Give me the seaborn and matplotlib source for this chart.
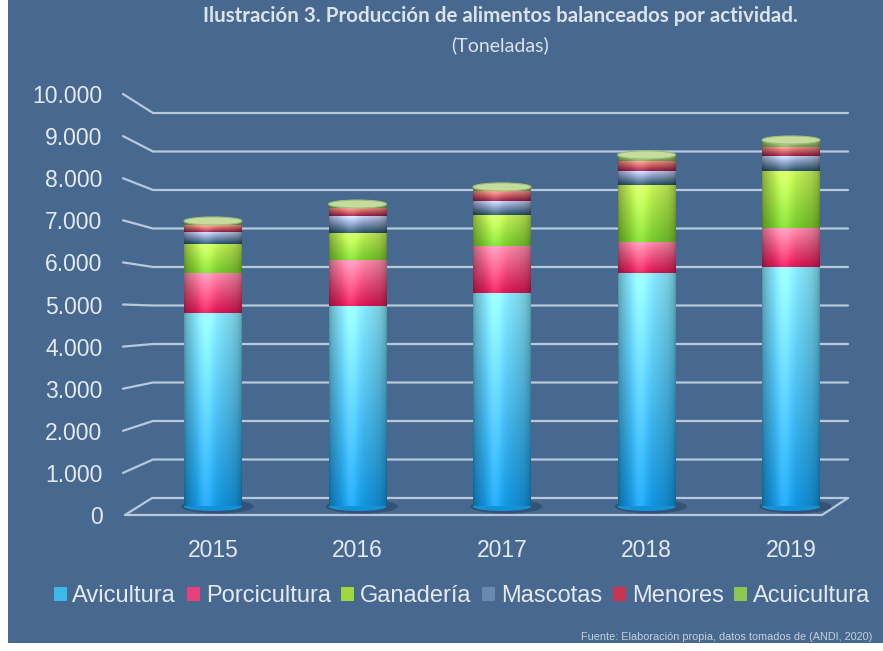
import numpy as np
import pandas as pd
import matplotlib
matplotlib.use("Agg")
import matplotlib.pyplot as plt
import matplotlib.transforms as mtransforms
from matplotlib.patches import Rectangle, Ellipse
import seaborn as sns

# ---------------- data (toneladas) ----------------
years = ["2015", "2016", "2017", "2018", "2019"]
series = ["Avicultura", "Porcicultura", "Ganadería", "Mascotas", "Menores", "Acuicultura"]
avicultura = [4790, 4975, 5290, 5790, 5950]
porcicultura = [1000, 1140, 1175, 785, 955]
ganaderia = [720, 670, 770, 1405, 1420]
mascotas = [310, 420, 355, 355, 380]
menores = [165, 200, 250, 250, 225]
acuicultura = [100, 100, 90, 140, 165]
ytick_values = [0, 1000, 2000, 3000, 4000, 5000, 6000, 7000, 8000, 9000, 10000]
ytick_labels = ["0", "1.000", "2.000", "3.000", "4.000", "5.000",
                "6.000", "7.000", "8.000", "9.000", "10.000"]
title = "Ilustración 3. Producción de alimentos balanceados por actividad."
subtitle = "(Toneladas)"
source = "Fuente: Elaboración propia, datos tomados de (ANDI, 2020)"

values = [avicultura, porcicultura, ganaderia, mascotas, menores, acuicultura]

# style: (top light colour, bottom dark colour, legend colour)
styles = [
    ("#86E4F8", "#1392DA", "#3DB8EA"),
    ("#F68AA8", "#D31450", "#E8407A"),
    ("#C2EC56", "#74C42A", "#9ED83E"),
    ("#C4CCF6", "#244C62", "#6A88B0"),
    ("#F29A86", "#8E1A3A", "#C83452"),
    ("#B2D682", "#6E9A4E", "#8CC850"),
]

BG = "#476990"
TXT = "#E4E9EF"
GRID = "#B9C9DC"

W, H = 883, 651
fig = plt.figure(figsize=(W / 100, H / 100), dpi=100, facecolor="white")
fig.patches.append(Rectangle((8 / W, 1 - 643 / H), 1 - 8 / W, 643 / H,
                             transform=fig.transFigure, facecolor=BG,
                             edgecolor="none", zorder=-10))
sns.set_style("white")
plt.rcParams["font.family"] = ["Liberation Sans", "DejaVu Sans"]

# axes: pixel box 140..848 horizontally, 94..515 vertically
ax = fig.add_axes([140 / W, 1 - 515 / H, (848 - 140) / W, (515 - 94) / H])
ax.set_facecolor("none")

# scale at the depth of the bars: 0 -> 506.5 px, 40.3 px per 1000
PX0, PXK = 506.5, 40.3
def px_to_val(py):
    return (PX0 - py) / PXK * 1000

# stacked bars via seaborn (cumulative, drawn from top layer down)
cums = np.cumsum(np.array(values, dtype=float), axis=0)
bar_w = 0.40
for k in range(len(series) - 1, -1, -1):
    df = pd.DataFrame({"Año": years, "valor": cums[k]})
    sns.barplot(data=df, x="Año", y="valor", color=styles[k][2], width=bar_w,
                ax=ax, zorder=2, edgecolor="none", saturation=1)

ax.set_xlim(-0.505, 4.394)
ax.set_ylim(px_to_val(515), px_to_val(94))

# ---------------- cylinder shading ----------------
def hex2rgb(h):
    return np.array(matplotlib.colors.to_rgb(h))

nx, ny = 80, 60
tx = np.linspace(-1, 1, nx)
profile = 0.66 + 0.34 * np.sqrt(np.clip(1 - tx ** 2, 0, 1)) \
    + 0.16 * np.exp(-((tx + 0.25) / 0.35) ** 2)
spec = 0.10 * np.exp(-((tx + 0.25) / 0.22) ** 2)
ty = np.linspace(0, 1, ny)[:, None]  # 0 bottom .. 1 top


def cyl_image(top_hex, bot_hex):
    top, bot = hex2rgb(top_hex), hex2rgb(bot_hex)
    base = bot[None, None, :] * (1 - ty[..., None]) + top[None, None, :] * ty[..., None]
    img = base * profile[None, :, None]
    img = img + spec[None, :, None] * (1 - img)
    return np.clip(img, 0, 1)


imgs = [cyl_image(s[0], s[1]) for s in styles]
for i in range(len(years)):
    # floor shadow and rounded bottom
    ax.add_patch(Ellipse((i + 0.03, 0), bar_w * 1.25, px_to_val(PX0 - 14),
                         facecolor="#23405E", alpha=0.55, edgecolor="none", zorder=1))
    ax.add_patch(Ellipse((i, 0), bar_w, px_to_val(PX0 - 9),
                         facecolor=styles[0][1], edgecolor="none", zorder=2.5))
    for k in range(len(series)):
        bottom = 0 if k == 0 else cums[k - 1][i]
        topv = cums[k][i]
        ax.imshow(imgs[k], extent=(i - bar_w / 2, i + bar_w / 2, bottom, topv),
                  origin="lower", aspect="auto", zorder=3, interpolation="bilinear")
    # top cap
    cap = Ellipse((i, cums[-1][i]), bar_w, px_to_val(PX0 - 8),
                  facecolor="#C6DC9C", edgecolor="#9DBF78", lw=0.8, zorder=4)
    ax.add_patch(cap)
ax.set_xlim(-0.505, 4.394)
ax.set_ylim(px_to_val(515), px_to_val(94))

# ---------------- 3D-like grid (back wall lines + diagonal connectors) ----------------
blend = mtransforms.blended_transform_factory(fig.transFigure, ax.transData)
front_pos = []
for v in ytick_values:
    yb = px_to_val(498 - 0.0385 * v)
    yf = px_to_val(515 - 0.0421 * v)
    front_pos.append(yf)
    if v == 0:
        ax.plot([125 / W, 152 / W, 848 / W], [yf, yb, yb], transform=blend,
                color=GRID, lw=1.6, clip_on=False, zorder=0.5)
        ax.plot([125 / W, 822 / W, 848 / W], [yf, yf, yb], transform=blend,
                color=GRID, lw=1.6, clip_on=False, zorder=0.5)
    else:
        ax.plot([123 / W, 153 / W, 848 / W], [yf, yb, yb], transform=blend,
                color=GRID, lw=1.6, clip_on=False, zorder=0.5)

ax.set_yticks(front_pos)
ax.set_yticklabels(ytick_labels)
ax.tick_params(axis="y", length=0, pad=27, labelsize=16.5, labelcolor=TXT)
ax.tick_params(axis="x", length=0, pad=17, labelsize=16.5, labelcolor=TXT)
ax.set_xlabel("")
ax.set_ylabel("")
for sp in ax.spines.values():
    sp.set_visible(False)
ax.grid(False)

# ---------------- legend ----------------
handles = [Rectangle((0, 0), 1, 1, facecolor=s[2], edgecolor="none") for s in styles]
fig.legend(handles, series, loc="center", ncol=6,
           bbox_to_anchor=(462 / W, 1 - 596 / H), frameon=False,
           fontsize=17, labelcolor=TXT, handlelength=0.55, handleheight=0.55,
           handletextpad=0.25, columnspacing=0.45, borderaxespad=0)

# ---------------- titles and source ----------------
fig.text(500 / W, 1 - 16 / H, title, ha="center", va="center", fontsize=14.8,
         fontweight="bold", color="#DCE2EA", family=["Lato", "DejaVu Sans"])
fig.text(500 / W, 1 - 45 / H, subtitle, ha="center", va="center", fontsize=14,
         color="#DCE2EA", family=["Lato", "DejaVu Sans"])
fig.text(872 / W, 1 - 637 / H, source, ha="right", va="center", fontsize=7.8,
         color="#C5D0DD")

fig.savefig("out.png", dpi=100, facecolor=fig.get_facecolor())
